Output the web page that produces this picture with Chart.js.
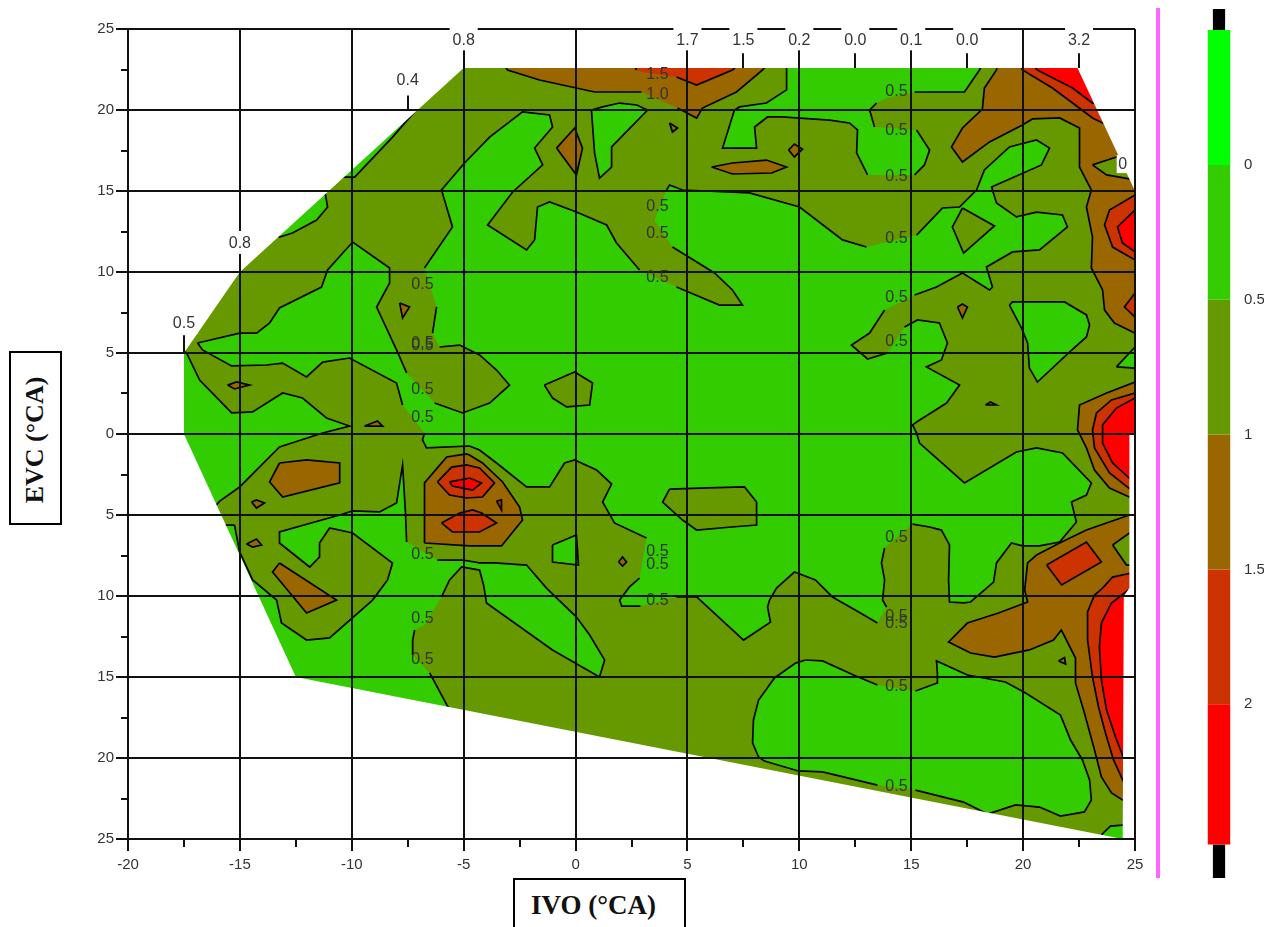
<!DOCTYPE html>
<html>
<head>
<meta charset="utf-8">
<script src="https://cdn.jsdelivr.net/npm/chart.js@4/dist/chart.umd.js"></script>
<style>
  html, body { margin: 0; padding: 0; background: #fff; overflow: hidden; width: 1264px; height: 927px; }
  canvas { position: absolute; top: 0; }
  #contour { left: 0; }
  #colorbar { left: 1202px; }
  .axisbox { position: absolute; box-sizing: border-box; border: 2px solid #000; background: #fff;
             font: bold 26px "Liberation Serif", serif; color: #111; display: flex; align-items: center; justify-content: center; }
  #evc { left: 9px; top: 351px; width: 53px; height: 174px; padding-top: 4px; }
  #evc span { transform: rotate(-90deg); white-space: nowrap; }
  #ivo { left: 513px; top: 878px; width: 173px; height: 60px; padding: 0 12px 6px 0; font-size: 27px; }
  #sep { position: absolute; left: 1156px; top: 8px; width: 4px; height: 870px; background: #ff66ff; }
</style>
</head>
<body>
<canvas id="contour" width="1264" height="927"></canvas>
<canvas id="colorbar" width="62" height="927"></canvas>
<div id="sep"></div>
<div class="axisbox" id="evc"><span>EVC (°CA)</span></div>
<div class="axisbox" id="ivo">IVO (°CA)</div>
<script>
// axis ticks
const xTicks = [-20, -15, -10, -5, 0, 5, 10, 15, 20, 25];
const yTicks = [-25, -20, -15, -10, -5, 0, 5, 10, 15, 20, 25];

// band colours, low to high
const C_GREEN = '#33cc00', C_OLIVE = '#669900', C_BROWN = '#996600', C_ORANGE = '#cc3300', C_RED = '#ff0000';

// colour scale
const legendEdges = [-0.5, 0, 0.5, 1, 1.5, 2, 2.52];
const legendColors = ['#00ff00', C_GREEN, C_OLIVE, C_BROWN, C_ORANGE, C_RED];
const legendTicks = [0, 0.5, 1, 1.5, 2];
const legendCaps = [[-0.578, -0.5], [2.52, 2.644]];

// background of the plot, the mask below trims it to the tested region
const plotRect = [[-20,25],[25.5,25],[25.5,-25.5],[-20,-25.5]];
const maskOutline = [[-20.5,25.6],[25.6,25.6],[25.6,-25.6],[24.45,-25.6],[24.45,-25],[24.5,-10],[24.75,-9.5],[24.75,0],[25,0.1],[25,15],[22.43,22.6],[-5,22.6],[-15,10],[-17.5,5],[-17.5,0],[-12.5,-15],[24.45,-25],[24.45,-25.6],[-20.5,-25.6]];

// 0 - 0.5 band
const greenMain = [[-16.89,5.62],[-15.01,6.23],[-14.25,6.23],[-13.67,6.85],[-13.23,7.78],[-11.35,9.07],[-11.08,10.12],[-9.96,11.85],[-8.31,10.25],[-8.31,9.32],[-8.89,7.84],[-8,5.19],[-7.55,3.77],[-6.3,1.91],[-5.05,1.3],[-3.84,1.91],[-2.95,3.02],[-3.53,3.95],[-4.29,4.88],[-4.74,5.19],[-5.18,5.49],[-6.08,5.37],[-6.39,6.23],[-6.21,7.84],[-6.75,10.25],[-5.5,12.78],[-5.99,15.06],[-4.96,16.73],[-3.84,18.33],[-2.37,19.88],[-1.16,19.69],[-1.03,18.95],[-1.83,17.65],[-1.47,16.61],[-2.81,14.94],[-3.93,12.9],[-2.19,11.36],[-1.83,11.98],[-1.7,14.01],[-1.16,14.32],[0.04,13.7],[1.39,12.9],[1.83,11.79],[2.86,10.12],[4.51,9.07],[6.43,7.96],[7.46,7.96],[7.01,8.89],[6.21,9.94],[4.33,11.54],[3.53,13.21],[4.07,15.06],[4.2,15.37],[4.78,15.06],[7.77,14.88],[10.01,14.01],[11.93,11.98],[13,11.54],[15.24,12.28],[16.4,13.95],[17.16,14.01],[17.92,15.06],[18.27,16.3],[19.39,17.72],[20.6,18.15],[21.18,17.65],[20.82,16.61],[18.59,15.25],[18.81,14.26],[19.7,13.4],[20.6,13.7],[21.76,13.52],[21.98,12.78],[20.73,11.36],[19.53,11.24],[18.36,10.31],[18.63,9.07],[18.5,8.89],[17.29,9.94],[16.13,9.07],[15.15,8.58],[13.81,7.65],[13.14,6.23],[12.33,5.49],[13.05,4.63],[13.94,5],[14.7,6.6],[15.28,7.04],[16.26,6.85],[16.62,5.62],[16.35,4.57],[15.68,4.14],[17.16,3.02],[16.58,1.91],[15.24,0.74],[15.06,0.56],[15.24,0.06],[15.37,-0.56],[17.38,-3.02],[19.7,-1.11],[20.6,-0.86],[21.76,-1.17],[23.05,-3.02],[22.83,-3.77],[22.16,-4.2],[22.38,-5.43],[21.63,-6.67],[20.73,-6.91],[19.97,-6.91],[19.48,-6.73],[18.81,-7.96],[18.68,-9.14],[17.65,-10.37],[17.34,-10.43],[16.71,-10.37],[16.67,-9.01],[16.71,-6.85],[16.35,-5.93],[15.82,-5.74],[15.06,-5.56],[13.81,-7.04],[13.67,-7.96],[13.81,-9.01],[13.72,-10.25],[13.9,-10.68],[13.49,-11.67],[12.73,-11.05],[11.48,-10.06],[10.72,-9.01],[9.78,-8.52],[8.98,-9.51],[8.67,-10.25],[8.58,-10.68],[8.71,-11.61],[7.51,-12.72],[5.41,-10.06],[4.51,-10.06],[2.9,-10.62],[2.06,-10.62],[1.97,-10.25],[2.41,-9.44],[2.86,-8.89],[3.17,-6.42],[1.74,-5.49],[1.21,-4.2],[1.61,-3.09],[0.94,-2.22],[-0.04,-1.6],[-0.49,-1.79],[-1.16,-3.27],[-2.19,-3.27],[-3.53,-1.79],[-4.29,-0.99],[-4.74,-0.74],[-6.66,-0.86],[-6.84,-0.37],[-6.75,0.06],[-7.73,1.79],[-8,3.15],[-10.1,4.69],[-11.3,4.44],[-12.02,3.52],[-13.09,4.38],[-13.81,4.26],[-15.37,4.2],[-16.67,5.19]];
const greenLeft = [[-17.4,5.06],[-16.8,3.33],[-15.37,1.3],[-14.43,1.36],[-13.09,2.53],[-12.2,2.22],[-11.13,0.99],[-10.1,0.49],[-11.3,0.06],[-13.23,-0.8],[-15.01,-3.27],[-15.9,-4.14],[-16.26,-4.69],[-19,-4.69],[-19,5.06]];
const greenLowerLeft = [[-15.24,-5.62],[-15.01,-7.28],[-14.43,-9.01],[-13.36,-10.25],[-13.14,-11.67],[-12.02,-12.72],[-10.99,-12.59],[-9.07,-10.25],[-8.4,-9.01],[-8.18,-7.96],[-9.96,-6.11],[-10.99,-5.8],[-11.44,-6.73],[-11.44,-7.59],[-11.88,-8.21],[-13.23,-6.73],[-13.23,-6.05],[-10.54,-5],[-9.96,-4.75],[-8.76,-4.81],[-8,-4.26],[-7.73,-1.91],[-7.6,-4.88],[-7.55,-6.67],[-6.17,-7.78],[-5.05,-7.78],[-4.29,-7.96],[-3.62,-7.96],[-2.19,-8.09],[-1.3,-9.51],[0.04,-11.3],[0.63,-12.41],[1.3,-13.95],[1.07,-15],[-1.03,-13.33],[-3.98,-10.43],[-4.11,-9.32],[-4.29,-8.4],[-5.09,-8.21],[-5.63,-9.01],[-5.99,-10.06],[-6.75,-11.79],[-7.19,-12.1],[-7.28,-12.72],[-7.28,-13.64],[-6.52,-14.75],[-5.63,-17.04],[-5.63,-21],[-19,-21],[-19,-5.62]];
const greenEdge1 = [[-7.55,20],[-7.06,20.1],[-8.18,18.33],[-9.87,15.86],[-10.63,15.86],[-11.5,15.86],[-8,21]];
const greenEdge2 = [[-11.2,14.94],[-11.08,14.01],[-11.57,13.21],[-12.65,12.41],[-13.23,12.16],[-13.4,12.41],[-14,13],[-11.4,16]];
const greenWedge = [[0.71,20],[1.21,20.19],[1.97,20.43],[2.73,20.31],[3.22,20],[1.61,17.72],[1.61,16.48],[1.07,15.8],[0.85,17.35]];
const greenTop = [[9.43,23.1],[9.43,21.24],[8.53,20.43],[7.33,20.19],[7.1,20],[6.57,17.65],[8.09,17.65],[8,18.95],[8.58,19.57],[9.2,19.57],[11.35,19.38],[12.24,19.2],[12.6,18.77],[12.56,17.35],[13.05,15.99],[15.15,15.99],[15.59,16.61],[15.82,17.53],[15.24,18.77],[13.36,18.95],[13.14,20],[13.45,20.43],[13.9,20.74],[15.15,21.11],[17.38,21.11],[18.05,22.47],[18.27,23.1]];
const greenBottom = [[10.28,-13.95],[11.04,-14.01],[12.42,-14.88],[13.49,-15.49],[15.19,-15.86],[16.17,-15.37],[16.17,-14.75],[16.13,-14.01],[17.51,-14.88],[19.21,-15.31],[20.11,-15.99],[21.67,-17.35],[22.12,-18.89],[22.65,-20.12],[22.97,-21.36],[23.05,-22.59],[22.74,-23.33],[21.67,-23.58],[20.73,-23.03],[19.66,-22.9],[18.41,-23.46],[17.34,-22.72],[15.19,-21.98],[13.49,-21.67],[11.04,-20.86],[9.96,-20.8],[8.44,-20.19],[8.18,-19.94],[7.91,-19.07],[7.95,-17.65],[8.18,-16.42],[8.89,-15.06],[9.83,-14.14]];
const greenCorner = [[23.5,-24.75],[23.9,-24.2],[24.44,-24.14],[25,-24.14],[25,-26],[23.5,-26]];
const greenRight1 = [[19.39,7.96],[19.53,8.15],[21.85,8.15],[22.83,7.35],[22.97,6.73],[22.83,5.99],[22.07,5.06],[20.64,3.21],[20.28,4.07],[20.2,5.62],[19.93,6.54]];
const greenRight2 = [[24.17,4.14],[25,5.37],[26,5.37],[26,4.07],[25,4.07]];
const greenPocket = [[-1.03,-6.85],[0.04,-6.24],[0.13,-8.09],[-1.03,-7.9]];

// 0.5 - 1 band, islands sitting on the green
const oliveIsland1 = [[-1.39,3.02],[-0.04,3.83],[0.76,3.15],[0.63,1.79],[-0.4,1.67],[-1.03,2.22]];
const oliveIsland2 = [[4.2,-3.4],[5.9,-3.33],[7.55,-3.27],[8.09,-4.2],[8.09,-5.62],[6.97,-5.74],[5.41,-5.93],[4.78,-5.31],[3.89,-4.2]];
const oliveIsland3 = [[17.29,13.95],[18.72,12.84],[17.34,11.17],[16.84,12.78]];
const oliveInBrown1 = [[23.1,16.61],[24.17,17.1],[24.66,17.1],[25,15.68],[24.31,15.86],[23.73,15.99]];
const oliveInBrown2 = [[24,-6.85],[24.75,-6.11],[26,-6.11],[26,-8.1],[24.62,-8.09]];

// 1 - 1.5 band
const brownTop = [[-3.4,23.2],[-3.04,22.47],[-1.61,21.85],[0.85,21.11],[2.95,21.11],[4.56,20.12],[5.41,19.5],[5.67,20.12],[7.19,21.11],[8.36,22.47],[8.8,23.2]];
const brownSpeck = [[4.2,19.2],[4.56,18.89],[4.33,18.64]];
const brownDiamond = [[-0.85,17.65],[-0.04,18.89],[0.31,17.65],[0.04,15.99]];
const brownLens = [[6.08,16.48],[7.01,16.73],[8.53,16.91],[9.43,16.48],[8.76,16.11],[7.01,16.05]];
const brownDot = [[9.52,17.53],[9.78,17.9],[10.14,17.59],[9.78,17.1]];
const brownUpperRight = [[18.9,23.2],[18.81,22.47],[18.27,21.36],[18.18,20.06],[17.29,18.89],[16.8,17.72],[17.29,16.79],[18.5,18.03],[19.97,19.07],[20.42,19.45],[21.63,19.51],[22.52,18.89],[22.52,16.48],[23.05,15.06],[22.83,14.01],[23.1,12.16],[23.05,10.25],[23.55,8.89],[23.64,7.65],[24.08,6.85],[25,6.23],[26,6.23],[26,23.2]];
const brownMidRight = [[25,3.21],[23.73,2.53],[22.52,1.79],[22.43,0.25],[22.83,-0.86],[23.19,-2.22],[23.86,-3.33],[24.84,-3.95],[26,-3.95],[26,3.21]];
const brownLowerRight = [[24.75,-5],[22.83,-5.93],[21.63,-6.73],[20.6,-7.47],[20.2,-7.96],[20.07,-9.63],[20.2,-10.37],[18.9,-11.05],[17.51,-11.67],[16.67,-12.84],[17.65,-13.52],[18.72,-13.77],[20.28,-13.33],[21.36,-12.72],[21.71,-12.1],[22.34,-13.83],[22.34,-15.37],[22.74,-17.22],[23.19,-19.51],[23.5,-21.17],[23.95,-22.16],[24.44,-22.59],[26,-22.59],[26,-5]];
const brownPeak = [[-6.75,-6.73],[-6.75,-3.02],[-5.76,-1.42],[-4.87,-1.23],[-4.74,-1.3],[-4.16,-1.79],[-3.26,-2.96],[-2.5,-4.51],[-2.37,-5.31],[-3.31,-6.91],[-4.74,-6.91]];
const brownLeft = [[-13.23,-1.79],[-12.02,-1.6],[-10.54,-1.79],[-10.54,-3.02],[-13.09,-3.89],[-13.67,-2.96]];
const brownBar = [[-13.23,-7.96],[-10.68,-10.25],[-12.02,-11.05],[-13.54,-8.52]];
const brownSmall1 = [[-15.55,3.02],[-15.15,3.21],[-14.57,3.02],[-15.24,2.78]];
const brownSmall2 = [[-14.48,-4.2],[-14.26,-4.07],[-13.9,-4.26],[-14.26,-4.57]];
const brownSmall3 = [[-14.7,-6.79],[-14.26,-6.48],[-14.03,-6.85],[-14.43,-6.98]];
const brownSmall4 = [[-9.43,0.49],[-8.85,0.8],[-8.62,0.49]];
const brownSmall5 = [[-7.86,8.09],[-7.42,7.84],[-7.73,7.16]];
const brownSmall6 = [[1.92,-7.9],[2.1,-7.59],[2.28,-7.9],[2.1,-8.15]];
const brownSmall7 = [[17.07,7.84],[17.29,8.03],[17.51,7.84],[17.29,7.16]];
const brownSmall8 = [[18.32,1.79],[18.54,1.98],[18.81,1.79]];
const brownSmall9 = [[21.58,-14.01],[21.85,-13.8],[21.9,-14.2]];

// 1.5 - 2 band
const orangeTop = [[2.4,23.2],[2.73,22.47],[2.99,22.35],[4.51,22.04],[5.41,21.54],[7.01,22.47],[7.6,23.2]];
const orangeCorner = [[19.7,23.2],[19.97,22.47],[21.31,21.36],[22.21,20.43],[23.1,19.51],[23.55,19.2],[26,19.2],[26,23.2]];
const orangeUpper = [[25,14.75],[23.86,13.83],[23.64,12.9],[24,11.54],[25,10.74],[26,10.74],[26,14.75]];
const orangeEdge = [[25,8.7],[24.53,7.84],[25,7.22],[26,7.22],[26,8.7]];
const orangeMid = [[25,2.53],[23.95,2.1],[23.28,1.3],[23.1,0.25],[23.19,-0.86],[23.86,-2.41],[24.84,-3.46],[26,-3.46],[26,2.53]];
const orangeRect = [[21.05,-8.09],[22.83,-6.67],[23.5,-7.9],[21.72,-9.32]];
const orangeLower = [[24.84,-8.58],[24,-8.83],[23.55,-9.51],[23.19,-9.94],[22.88,-10.99],[22.88,-12.72],[23.1,-15],[23.37,-16.85],[23.68,-18.46],[24.04,-20.12],[24.49,-21.48],[26,-21.48],[26,-8.58]];
const orangePeak1 = [[-6.17,-2.96],[-5.54,-2.04],[-4.87,-1.91],[-4.29,-2.1],[-3.62,-3.02],[-4.16,-3.89],[-4.87,-3.95],[-5.63,-3.77]];
const orangePeak2 = [[-5.99,-5.49],[-5.18,-4.88],[-4.6,-4.69],[-4.2,-4.88],[-3.53,-5.49],[-4.29,-6.05],[-5.5,-6.05]];
const orangeSpeck = [[-3.53,-4.14],[-3.31,-4.07],[-3.31,-4.69]];

// above 2
const redCorner = [[20.2,23.2],[20.64,22.47],[22.21,21.36],[23.1,20.43],[24.5,20.43],[24.5,23.2]];
const redUpper = [[25,13.83],[24.22,12.78],[24.44,11.79],[25,11.24],[26,11.24],[26,13.83]];
const redMid = [[25,2.22],[24.17,1.6],[23.55,0.56],[23.55,-0.56],[24,-1.79],[24.84,-2.84],[26,-2.84],[26,2.22]];
const redLower = [[24.71,-9.63],[23.95,-10.43],[23.5,-11.67],[23.41,-13.15],[23.5,-15.19],[23.73,-17.04],[24.13,-18.7],[24.49,-20],[26,-20],[26,-9.63]];
const redPeak = [[-5.63,-2.96],[-4.74,-2.72],[-4.2,-3.02],[-4.6,-3.46],[-5.09,-3.33],[-5.5,-3.21]];

// labels on the contour lines: x, y, text
const contourLabels = [
  [14.34,21.11,'0.5'],[14.34,18.7,'0.5'],[14.34,15.86,'0.5'],[14.34,12.04,'0.5'],[14.34,8.4,'0.5'],[14.34,5.68,'0.5'],
  [14.34,-6.42,'0.5'],[14.34,-11.3,'0.5'],[14.34,-11.73,'0.5'],[14.34,-15.62,'0.5'],[14.34,-21.79,'0.5'],
  [3.66,14.01,'0.5'],[3.66,12.35,'0.5'],[3.66,9.63,'0.5'],[3.66,-7.28,'0.5'],[3.66,-8.09,'0.5'],[3.66,-10.31,'0.5'],
  [3.66,22.16,'1.5'],[3.66,20.93,'1.0'],
  [-6.84,9.2,'0.5'],[-6.84,5.56,'0.5'],[-6.84,5.43,'0.5'],[-6.84,2.72,'0.5'],[-6.84,0.99,'0.5'],[-6.84,-7.47,'0.5'],[-6.84,-11.42,'0.5'],[-6.84,-13.95,'0.5']
];

// values at the region's edge: x, edge y, stick end y, label y, text
const edgeLabels = [
  [-17.5,5,6.1,6.8,'0.5'],[-15,10,11,11.73,'0.8'],[-7.5,20,20.9,21.8,'0.4'],[-5,22.6,23.5,24.3,'0.8'],
  [5,22.6,23.5,24.3,'1.7'],[7.5,22.6,23.5,24.3,'1.5'],[10,22.6,23.5,24.3,'0.2'],[12.5,22.6,23.5,24.3,'0.0'],
  [15,22.6,23.5,24.3,'0.1'],[17.5,22.6,23.5,24.3,'0.0'],[22.5,22.6,23.5,24.3,'3.2']
];
const cornerLabel = [24.45, 16.6, '0'];

// paint order: first is at the bottom
const layers = [
  [greenMain, C_GREEN], [greenLeft, C_GREEN], [greenLowerLeft, C_GREEN], [greenEdge1, C_GREEN], [greenEdge2, C_GREEN],
  [greenWedge, C_GREEN], [greenTop, C_GREEN], [greenBottom, C_GREEN], [greenCorner, C_GREEN], [greenRight1, C_GREEN], [greenRight2, C_GREEN], [greenPocket, C_GREEN],
  [oliveIsland1, C_OLIVE], [oliveIsland2, C_OLIVE], [oliveIsland3, C_OLIVE],
  [brownTop, C_BROWN], [brownSpeck, C_BROWN], [brownDiamond, C_BROWN], [brownLens, C_BROWN], [brownDot, C_BROWN],
  [brownUpperRight, C_BROWN], [brownMidRight, C_BROWN], [brownLowerRight, C_BROWN], [brownPeak, C_BROWN], [brownLeft, C_BROWN], [brownBar, C_BROWN],
  [brownSmall1, C_BROWN], [brownSmall2, C_BROWN], [brownSmall3, C_BROWN], [brownSmall4, C_BROWN], [brownSmall5, C_BROWN],
  [brownSmall6, C_BROWN], [brownSmall7, C_BROWN], [brownSmall8, C_BROWN], [brownSmall9, C_BROWN],
  [oliveInBrown1, C_OLIVE], [oliveInBrown2, C_OLIVE],
  [orangeTop, C_ORANGE], [orangeCorner, C_ORANGE], [orangeUpper, C_ORANGE], [orangeEdge, C_ORANGE], [orangeMid, C_ORANGE],
  [orangeRect, C_ORANGE], [orangeLower, C_ORANGE], [orangePeak1, C_ORANGE], [orangePeak2, C_ORANGE], [orangeSpeck, C_ORANGE],
  [redCorner, C_RED], [redUpper, C_RED], [redMid, C_RED], [redLower, C_RED], [redPeak, C_RED]
];

function toPoints(list) {
  return list.concat([list[0]]).map(function (p) { return { x: p[0], y: p[1] }; });
}

// contour lines break where a label sits on them
function gapColor(ctx) {
  const mx = (ctx.p0.parsed.x + ctx.p1.parsed.x) / 2;
  const my = (ctx.p0.parsed.y + ctx.p1.parsed.y) / 2;
  const hit = contourLabels.some(function (l) { return Math.abs(mx - l[0]) < 0.8 && Math.abs(my - l[1]) < 0.6; });
  return hit ? 'rgba(0,0,0,0)' : undefined;
}

// segment styling splits the fill, so fill and outline are separate datasets
function fillSet(list, color, order) {
  return { data: toPoints(list), fill: 'shape', backgroundColor: color, borderWidth: 0, borderColor: color, pointRadius: 0, tension: 0, order: order };
}
function lineSet(list, order) {
  return { data: toPoints(list), fill: false, borderColor: '#000', borderWidth: 1.7, pointRadius: 0, tension: 0, order: order, segment: { borderColor: gapColor } };
}

const datasets = [fillSet(plotRect, C_OLIVE, 1000)];
layers.forEach(function (l, i) {
  const base = 998 - i * 2;
  datasets.push(fillSet(l[0], l[1], base));
  datasets.push(lineSet(l[0], base - 1));
});
datasets.push(fillSet(maskOutline, '#ffffff', 0));

const labelPlugin = {
  id: 'contourText',
  afterDraw: function (chart) {
    const c = chart.ctx, sx = chart.scales.x, sy = chart.scales.y;
    c.save();

    // minor ticks between the labelled ones
    c.strokeStyle = '#111';
    c.lineWidth = 2;
    xTicks.slice(1).forEach(function (v) {
      const px = Math.round(sx.getPixelForValue(v - 2.5));
      c.beginPath(); c.moveTo(px, sy.bottom); c.lineTo(px, sy.bottom + 8); c.stroke();
    });
    yTicks.slice(1).forEach(function (v) {
      const py = Math.round(sy.getPixelForValue(v - 2.5));
      c.beginPath(); c.moveTo(sx.left - 7, py); c.lineTo(sx.left, py); c.stroke();
    });

    c.font = '16px "Liberation Sans", Arial, sans-serif';
    c.textAlign = 'center';
    c.textBaseline = 'middle';
    c.fillStyle = '#333';
    contourLabels.forEach(function (l) {
      c.fillText(l[2], sx.getPixelForValue(l[0]), sy.getPixelForValue(l[1]));
    });

    edgeLabels.forEach(function (l) {
      const px = sx.getPixelForValue(l[0]), py = sy.getPixelForValue(l[3]);
      c.fillStyle = '#fff';
      c.fillRect(px - 14, py - 13, 28, 23);
      c.strokeStyle = '#111';
      c.lineWidth = 2;
      c.beginPath();
      c.moveTo(Math.round(px), sy.getPixelForValue(l[1]));
      c.lineTo(Math.round(px), sy.getPixelForValue(l[2]));
      c.stroke();
      c.fillStyle = '#333';
      c.fillText(l[4], px, py);
    });

    const cx = sx.getPixelForValue(cornerLabel[0]), cy = sy.getPixelForValue(cornerLabel[1]);
    c.fillStyle = '#fff';
    c.fillRect(cx - 6, cy - 10, 12, 18);
    c.fillStyle = '#333';
    c.fillText(cornerLabel[2], cx, cy);
    c.restore();
  }
};

new Chart(document.getElementById('contour'), {
  type: 'line',
  data: { datasets: datasets },
  plugins: [labelPlugin],
  options: {
    responsive: false,
    animation: false,
    events: [],
    layout: { padding: { top: 29, right: 129, left: 0, bottom: 0 } },
    plugins: { legend: { display: false }, tooltip: { enabled: false } },
    scales: {
      x: {
        type: 'linear', min: -20, max: 25,
        afterFit: function (s) { s.height = 88; },
        afterBuildTicks: function (s) { s.ticks = xTicks.map(function (v) { return { value: v }; }); },
        grid: { z: 1, color: '#111', lineWidth: 2, tickLength: 12, tickColor: '#111' },
        border: { color: '#111', width: 2, z: 1 },
        ticks: { color: '#333', padding: 5, maxRotation: 0, autoSkip: false, font: { family: '"Liberation Sans", Arial, sans-serif', size: 15 } }
      },
      y: {
        type: 'linear', min: -25, max: 25,
        afterFit: function (s) { s.width = 128; },
        afterBuildTicks: function (s) { s.ticks = yTicks.map(function (v) { return { value: v }; }); },
        grid: { z: 1, color: '#111', lineWidth: 2, tickLength: 12, tickColor: '#111' },
        border: { color: '#111', width: 2, z: 1 },
        ticks: {
          color: '#333', padding: 2, autoSkip: false, font: { family: '"Liberation Sans", Arial, sans-serif', size: 15 },
          callback: function (v) { return String(Math.abs(v)); }
        }
      }
    }
  }
});

// colour scale, one floating bar per band plus the black caps
const barSets = legendColors.map(function (col, i) {
  return { data: [[legendEdges[i], legendEdges[i + 1]]], backgroundColor: col, barPercentage: 0.66, categoryPercentage: 1, grouped: false };
});
legendCaps.forEach(function (cap) {
  barSets.push({ data: [cap], backgroundColor: '#000', barPercentage: 0.36, categoryPercentage: 1, grouped: false });
});

new Chart(document.getElementById('colorbar'), {
  type: 'bar',
  data: { labels: ['scale'], datasets: barSets },
  options: {
    responsive: false,
    animation: false,
    events: [],
    layout: { padding: { top: 8, bottom: 49, left: 0, right: 0 } },
    plugins: { legend: { display: false }, tooltip: { enabled: false } },
    scales: {
      x: { display: false },
      y: {
        position: 'right', reverse: true, min: -0.578, max: 2.644,
        afterFit: function (s) { s.width = 28; },
        afterBuildTicks: function (s) { s.ticks = legendTicks.map(function (v) { return { value: v }; }); },
        grid: { display: false },
        border: { display: false },
        ticks: {
          color: '#333', padding: 0, autoSkip: false, font: { family: '"Liberation Sans", Arial, sans-serif', size: 15 },
          callback: function (v) { return String(v); }
        }
      }
    }
  }
});
</script>
</body>
</html>
